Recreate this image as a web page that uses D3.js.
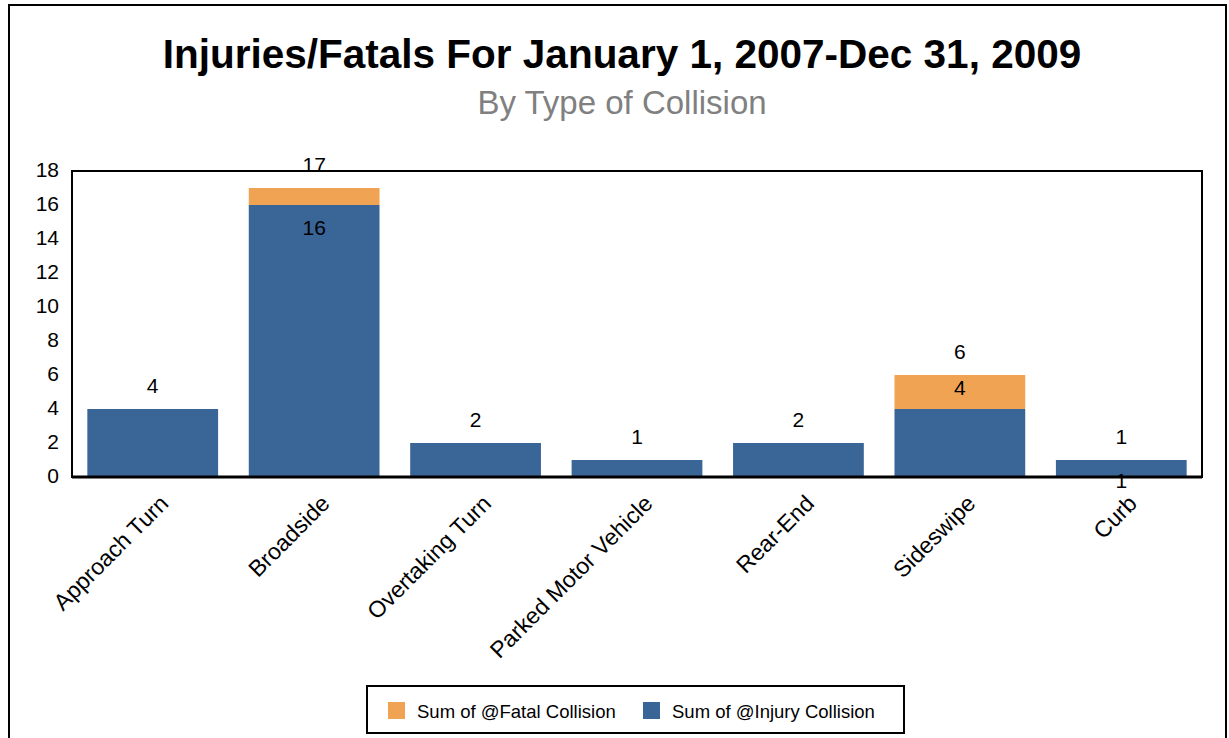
<!DOCTYPE html>
<html>
<head>
<meta charset="utf-8">
<script src="https://cdn.jsdelivr.net/npm/d3@7"></script>
<style>
  html, body { margin: 0; padding: 0; background: #fff; }
  svg { display: block; font-family: "Liberation Sans", Arial, sans-serif; }
</style>
</head>
<body>
<svg width="1229" height="738"></svg>
<script>
// chart data
const categories = ['Approach Turn', 'Broadside', 'Overtaking Turn', 'Parked Motor Vehicle', 'Rear-End', 'Sideswipe', 'Curb'];
const injury = [4, 16, 2, 1, 2, 4, 1];
const fatal = [0, 1, 0, 0, 0, 2, 0];
const yTicks = [0, 2, 4, 6, 8, 10, 12, 14, 16, 18];
const seriesNames = ['Sum of @Fatal Collision', 'Sum of @Injury Collision'];
const colors = { fatal: '#F0A453', injury: '#3A6597' };

const svg = d3.select('svg');

// outer frame
svg.append('rect')
  .attr('x', 9).attr('y', 5).attr('width', 1217).attr('height', 760)
  .attr('fill', 'none').attr('stroke', '#000').attr('stroke-width', 2);

svg.append('text')
  .attr('x', 622).attr('y', 68)
  .attr('text-anchor', 'middle')
  .attr('font-size', '40.5px').attr('font-weight', 'bold')
  .text('Injuries/Fatals For January 1, 2007-Dec 31, 2009');

svg.append('text')
  .attr('x', 622).attr('y', 114)
  .attr('text-anchor', 'middle')
  .attr('font-size', '33px').attr('fill', '#808080')
  .text('By Type of Collision');

const plotL = 72, plotR = 1202, plotT = 171, plotB = 477;

const x = d3.scaleBand().domain(categories).range([plotL, plotR])
  .paddingInner(0.19).paddingOuter(0.095);
const y = d3.scaleLinear().domain([0, 18]).range([plotB, plotT]);

const rows = categories.map((c, i) => ({ cat: c, injury: injury[i], fatal: fatal[i], total: injury[i] + fatal[i] }));

// bars
svg.selectAll('rect.inj').data(rows).enter().append('rect')
  .attr('class', 'inj')
  .attr('x', d => x(d.cat)).attr('width', x.bandwidth())
  .attr('y', d => y(d.injury)).attr('height', d => y(0) - y(d.injury))
  .attr('fill', colors.injury);

svg.selectAll('rect.fat').data(rows.filter(d => d.fatal > 0)).enter().append('rect')
  .attr('class', 'fat')
  .attr('x', d => x(d.cat)).attr('width', x.bandwidth())
  .attr('y', d => y(d.total)).attr('height', d => y(d.injury) - y(d.total))
  .attr('fill', colors.fatal);

// plot frame
svg.append('rect')
  .attr('x', plotL).attr('y', plotT).attr('width', plotR - plotL).attr('height', plotB - plotT)
  .attr('fill', 'none').attr('stroke', '#000').attr('stroke-width', 2);
svg.append('line')
  .attr('x1', plotL).attr('x2', plotR).attr('y1', plotB).attr('y2', plotB)
  .attr('stroke', '#000').attr('stroke-width', 3);

// y axis labels
svg.selectAll('text.ytick').data(yTicks).enter().append('text')
  .attr('class', 'ytick')
  .attr('x', 59).attr('y', d => y(d) - 2)
  .attr('text-anchor', 'end').attr('dominant-baseline', 'central')
  .attr('font-size', '21px')
  .text(d => d);

// x labels
svg.selectAll('text.xlab').data(categories).enter().append('text')
  .attr('class', 'xlab')
  .attr('text-anchor', 'end')
  .attr('font-size', '23px')
  .attr('transform', d => `translate(${x(d) + x.bandwidth() / 2 + 17},${plotB + 28}) rotate(-45)`)
  .text(d => d);

// total labels
svg.selectAll('text.tot').data(rows).enter().append('text')
  .attr('class', 'tot')
  .attr('x', d => x(d.cat) + x.bandwidth() / 2)
  .attr('y', d => y(d.total) - 24)
  .attr('text-anchor', 'middle').attr('dominant-baseline', 'central')
  .attr('font-size', '21px')
  .text(d => d.total);

// injury labels that the original shows
const injuryLabelPos = { 'Broadside': 22, 'Sideswipe': -22, 'Curb': 20 };
svg.selectAll('text.injlab').data(rows.filter(d => d.cat in injuryLabelPos)).enter().append('text')
  .attr('class', 'injlab')
  .attr('x', d => x(d.cat) + x.bandwidth() / 2)
  .attr('y', d => y(d.injury) + injuryLabelPos[d.cat])
  .attr('text-anchor', 'middle').attr('dominant-baseline', 'central')
  .attr('font-size', '21px')
  .text(d => d.injury);

// legend
const lg = svg.append('g');
lg.append('rect')
  .attr('x', 367).attr('y', 686).attr('width', 537).attr('height', 47)
  .attr('fill', '#fff').attr('stroke', '#000').attr('stroke-width', 2);
const legendItems = [
  { name: seriesNames[0], color: colors.fatal, x: 388 },
  { name: seriesNames[1], color: colors.injury, x: 643 }
];
legendItems.forEach(it => {
  lg.append('rect').attr('x', it.x).attr('y', 702).attr('width', 17).attr('height', 17).attr('fill', it.color);
  lg.append('text').attr('x', it.x + 29).attr('y', 711)
    .attr('dominant-baseline', 'central').attr('font-size', '18.5px')
    .text(it.name);
});
</script>
</body>
</html>
